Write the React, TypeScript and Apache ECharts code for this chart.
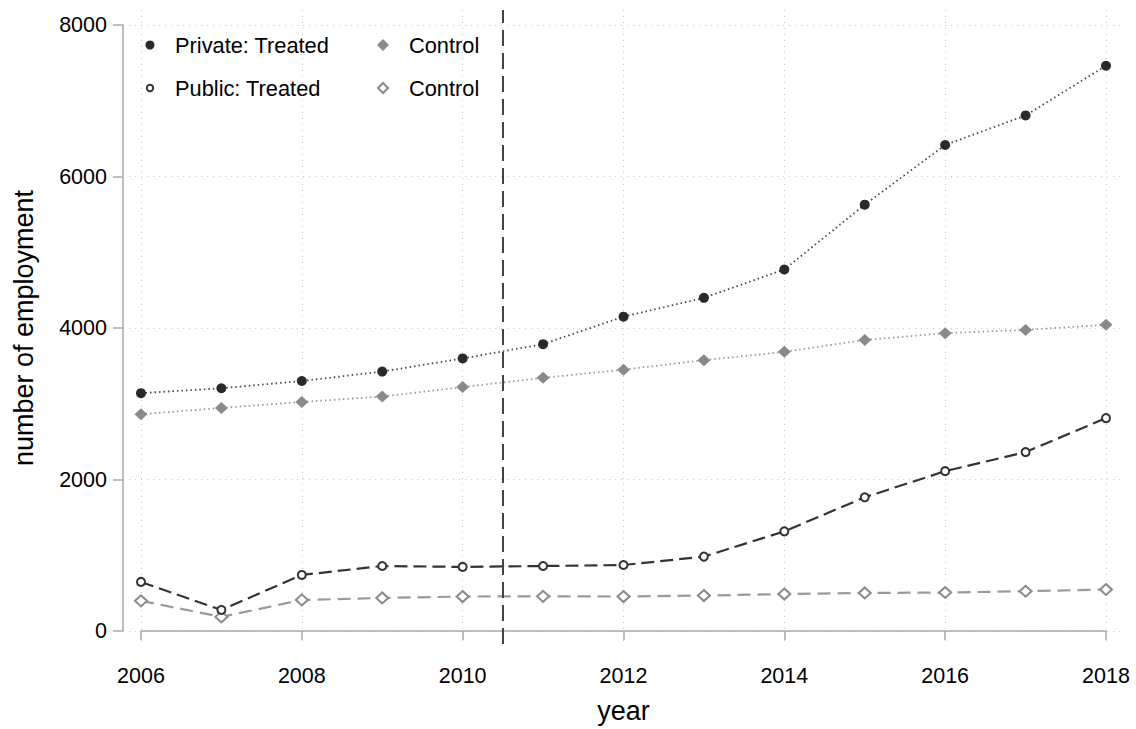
import React, { useEffect, useRef } from "react";
import * as echarts from "echarts";

const years = [2006, 2007, 2008, 2009, 2010, 2011, 2012, 2013, 2014, 2015, 2016, 2017, 2018];
const privateTreated = [3140, 3205, 3300, 3425, 3598, 3787, 4150, 4398, 4772, 5628, 6416, 6806, 7462];
const privateControl = [2862, 2945, 3023, 3095, 3220, 3342, 3450, 3575, 3685, 3842, 3932, 3975, 4042];
const publicTreated = [648, 278, 740, 858, 846, 858, 871, 982, 1315, 1765, 2110, 2362, 2810];
const publicControl = [398, 186, 410, 436, 455, 458, 455, 468, 488, 502, 508, 525, 548];
const xTicks = [2006, 2008, 2010, 2012, 2014, 2016, 2018];
const yTicks = [0, 2000, 4000, 6000, 8000];
const treatmentYear = 2010.5;

const FONT = "Liberation Sans, Arial, Helvetica, sans-serif";

function pairs(vals: number[]) {
  return years.map((y, i) => [y, vals[i]]);
}

export default function App() {
  const ref = useRef<HTMLDivElement>(null);
  useEffect(() => {
    if (!ref.current) return;
    const chart = echarts.init(ref.current, undefined, { renderer: "svg" });
    const gridLine = { show: true, lineStyle: { color: "#c6c6c6", width: 1, type: [1, 5] } };
    const axisColor = "#a8a8a8";
    const plain = (v: number) => String(v);
    chart.setOption({
      animation: false,
      backgroundColor: "#ffffff",
      textStyle: { fontFamily: FONT },
      grid: [
        { left: 129, right: 14, top: 10, bottom: 85 },
        { left: 141, right: 30, top: 25, bottom: 98 },
      ],
      xAxis: [
        {
          gridIndex: 0,
          type: "value",
          min: 2005.851,
          max: 2018.199,
          axisLine: { show: false },
          axisTick: { show: false, customValues: xTicks },
          axisLabel: { show: false, customValues: xTicks },
          splitLine: gridLine,
        },
        {
          gridIndex: 1,
          type: "value",
          min: 2006,
          max: 2018,
          interval: 2,
          offset: 18,
          axisLine: { show: true, lineStyle: { color: axisColor, width: 1.5 } },
          axisTick: { show: true, length: 9, lineStyle: { color: axisColor, width: 1.5 } },
          axisLabel: { color: "#000", fontSize: 21.5, fontFamily: FONT, margin: 16, formatter: plain },
          splitLine: { show: false },
          name: "year",
          nameLocation: "middle",
          nameGap: 48,
          nameTextStyle: { color: "#000", fontSize: 27, fontFamily: FONT },
        },
      ],
      yAxis: [
        {
          gridIndex: 0,
          type: "value",
          min: -171.6,
          max: 8198,
          axisLine: { show: false },
          axisTick: { show: false, customValues: yTicks },
          axisLabel: { show: false, customValues: yTicks },
          splitLine: gridLine,
        },
        {
          gridIndex: 1,
          type: "value",
          min: 0,
          max: 8000,
          interval: 2000,
          offset: 18,
          axisLine: { show: true, lineStyle: { color: axisColor, width: 1.5 } },
          axisTick: { show: true, length: 10, lineStyle: { color: axisColor, width: 1.5 } },
          axisLabel: { color: "#000", fontSize: 21.5, fontFamily: FONT, margin: 16, formatter: plain },
          splitLine: { show: false },
          name: "number of employment",
          nameLocation: "middle",
          nameGap: 86,
          nameRotate: 90,
          nameTextStyle: { color: "#000", fontSize: 27, fontFamily: FONT },
        },
      ],
      series: [
        {
          name: "Private: Control",
          type: "line",
          xAxisIndex: 0,
          yAxisIndex: 0,
          data: pairs(privateControl),
          symbol: "diamond",
          symbolSize: [13, 12],
          itemStyle: { color: "#8a8a8a" },
          lineStyle: { color: "#999999", width: 1.8, type: [1.5, 3] },
          z: 3,
        },
        {
          name: "Private: Treated",
          type: "line",
          xAxisIndex: 0,
          yAxisIndex: 0,
          data: pairs(privateTreated),
          symbol: "circle",
          symbolSize: 10,
          itemStyle: { color: "#2a2a2a" },
          lineStyle: { color: "#4a4a4a", width: 1.8, type: [1.5, 3] },
          z: 4,
        },
        {
          name: "Public: Control",
          type: "line",
          xAxisIndex: 0,
          yAxisIndex: 0,
          data: pairs(publicControl),
          symbol: "emptyDiamond",
          symbolSize: [12, 11],
          itemStyle: { color: "#8a8a8a", borderWidth: 2.2 },
          lineStyle: { color: "#999999", width: 2.2, type: [13, 7] },
          z: 3,
        },
        {
          name: "Public: Treated",
          type: "line",
          xAxisIndex: 0,
          yAxisIndex: 0,
          data: pairs(publicTreated),
          symbol: "emptyCircle",
          symbolSize: 8,
          itemStyle: { color: "#333333", borderWidth: 2.2 },
          lineStyle: { color: "#333333", width: 2.2, type: [13, 6] },
          z: 4,
          markLine: {
            silent: true,
            symbol: ["none", "none"],
            label: { show: false },
            lineStyle: { color: "#444444", width: 2, type: [16, 7] },
            data: [{ xAxis: treatmentYear }],
          },
        },
      ],
      graphic: [
        { type: "circle", shape: { cx: 150, cy: 45, r: 4.5 }, style: { fill: "#2a2a2a" } },
        { type: "text", x: 175, y: 45, style: { text: "Private: Treated", font: `21.8px ${FONT}`, fill: "#000", verticalAlign: "middle" } },
        { type: "polygon", shape: { points: [[383, 39], [389, 45], [383, 51], [377, 45]] }, style: { fill: "#8a8a8a" } },
        { type: "text", x: 409, y: 45, style: { text: "Control", font: `21.8px ${FONT}`, fill: "#000", verticalAlign: "middle" } },
        { type: "circle", shape: { cx: 150, cy: 88, r: 3.2 }, style: { fill: "#fff", stroke: "#333", lineWidth: 2 } },
        { type: "text", x: 175, y: 88, style: { text: "Public: Treated", font: `21.8px ${FONT}`, fill: "#000", verticalAlign: "middle" } },
        { type: "polygon", shape: { points: [[383, 83], [388, 88], [383, 93], [378, 88]] }, style: { fill: "#fff", stroke: "#8a8a8a", lineWidth: 2 } },
        { type: "text", x: 409, y: 88, style: { text: "Control", font: `21.8px ${FONT}`, fill: "#000", verticalAlign: "middle" } },
      ],
    });
    return () => chart.dispose();
  }, []);
  return <div ref={ref} style={{ position: "fixed", left: 0, top: 0, width: 1136, height: 729 }} />;
}
